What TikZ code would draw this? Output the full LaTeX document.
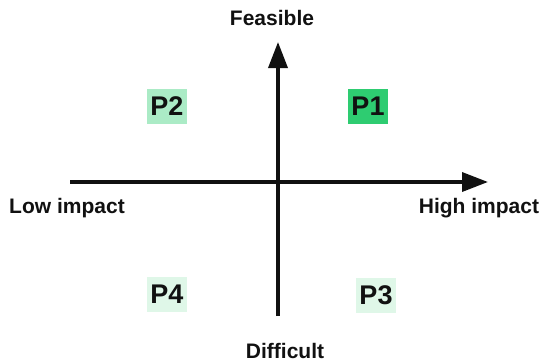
\documentclass[tikz,border=0pt]{standalone}
\usepackage{fontspec}
\setmainfont{Liberation Sans}
\usetikzlibrary{positioning,arrows.meta}
\definecolor{ink}{HTML}{111111}
\definecolor{pone}{HTML}{2ECC71}
\definecolor{ptwo}{HTML}{ABEBC6}
\definecolor{plow}{HTML}{DFF7E8}

\begin{document}
\begin{tikzpicture}[x=1pt,y=-1pt,every node/.style={text=ink,font=\bfseries\fontsize{21}{23}\selectfont},
  q/.style={inner sep=3pt,minimum height=35pt,font=\bfseries\fontsize{27}{29}\selectfont},
  ax/.style={line width=3.5pt,ink,-{Triangle[length=26pt,width=19pt]}}]
  \useasboundingbox (0,0) rectangle (543,362);
  \coordinate (west) at (70,182);
  \coordinate (east) at (488,182);
  \coordinate (south) at (278,316);
  \coordinate (north) at (278,42);
  \draw[ax] (west)--(east);
  \draw[ax] (south)--(north);
  \node (feas) at (272,18) {Feasible};
  \node (diff) at (285,351) {Difficult};
  \node (low)  at (67,208) {Low impact};
  \node (high) at (479,208) {High impact};
  \node[q,fill=pone] (p1) at (368,106) {P1};
  \node[q,fill=ptwo] (p2) at (167,106) {P2};
  \node[q,fill=plow] (p3) at (376,295) {P3};
  \node[q,fill=plow] (p4) at (167,294) {P4};
\end{tikzpicture}
\end{document}
